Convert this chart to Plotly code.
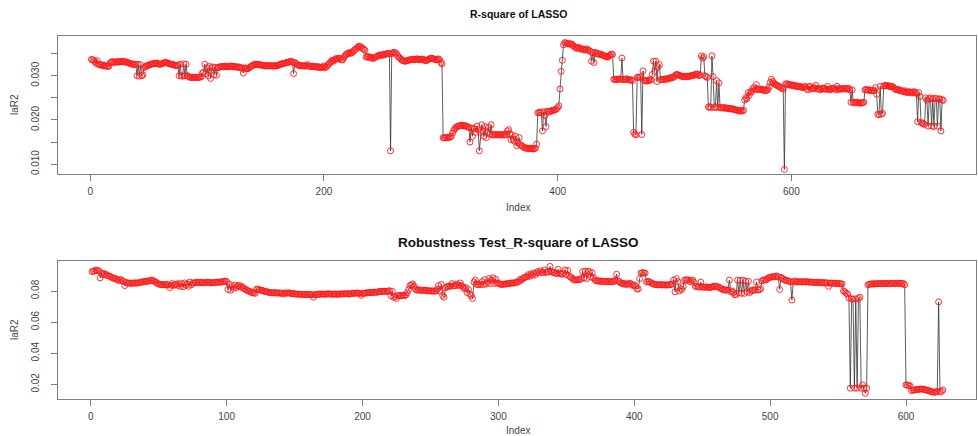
import plotly.graph_objects as go

# ---- data (index starts at 1) ----
lasso_r2 = [
 .0337,.0336,.0335,.0332,.0328,.0334,.0326,.0325,.0324,.0325,.0323,.0322,.0323,.0322,.0321,.0322,
 .0329,.0331,.0332,.0331,.0330,.0331,.0332,.0331,.0331,.0332,.0333,.0332,.0331,.0332,.0331,.0330,.0329,.0328,
 .0327,.0326,.0326,.0325,.0326,.0300,.0326,.0299,.0325,.0300,.0302,
 .0318,.0320,.0322,.0323,.0324,.0325,.0326,.0327,.0327,.0328,.0328,.0329,.0327,.0326,.0326,
 .0327,.0328,.0329,.0330,.0330,.0329,.0328,.0327,.0326,.0326,.0325,.0324,.0323,.0323,.0324,
 .0300,.0326,.0300,.0299,.0327,.0300,.0326,.0300,.0299,.0297,.0296,.0296,.0297,.0296,.0296,.0297,.0296,.0296,.0297,.0298,
 .0306,.0308,.0326,.0305,.0318,.0300,.0321,.0294,.0318,.0320,.0302,.0319,.0301,
 .0318,.0319,.0320,.0321,.0321,.0320,.0321,.0322,.0321,.0320,.0321,.0322,.0322,.0321,.0320,.0321,.0320,.0319,.0320,.0319,.0318,.0317,.0306,
 .0318,.0317,.0316,.0316,.0318,.0320,.0322,.0323,.0325,.0326,.0326,.0325,.0326,.0325,.0324,.0324,.0323,.0323,.0322,
 .0323,.0322,.0323,.0322,.0323,.0322,.0322,.0323,.0322,.0323,.0324,.0325,.0326,.0327,.0328,.0328,.0329,.0330,.0330,.0331,.0332,.0333,.0331,.0305,.0330,.0328,
 .0325,.0324,.0323,.0323,.0322,.0323,.0322,.0322,.0323,.0325,.0322,.0321,.0321,.0322,.0321,.0320,.0320,.0321,.0319,.0320,.0318,.0319,.0320,.0322,
 .0318,.0320,.0323,.0326,.0329,.0332,.0335,.0333,.0336,.0338,.0339,.0338,.0340,.0339,.0336,.0336,.0341,.0345,.0348,.0350,.0352,.0350,.0353,.0352,.0355,
 .0358,.0360,.0362,.0365,.0367,.0366,.0364,.0362,.0360,.0358,.0343,.0342,.0344,.0341,.0342,.0340,.0339,.0341,.0342,.0343,.0345,.0346,.0347,.0346,.0348,
 .0347,.0348,.0349,.0350,.0351,.0349,.0130,.0350,.0352,.0353,.0352,.0350,.0346,.0342,.0340,
 .0337,.0335,.0334,.0333,.0333,.0334,.0335,.0336,.0336,.0337,.0337,.0336,.0337,.0338,.0338,
 .0337,.0336,.0337,.0338,.0337,.0335,.0334,.0335,.0336,.0338,.0339,.0340,.0339,.0338,.0337,.0336,.0337,.0338,.0336,.0330,.0327,
 .0160,.0159,.0160,.0160,.0161,.0160,.0161,.0163,.0170,.0176,.0180,.0183,.0185,.0186,.0187,.0187,.0188,.0187,.0186,.0187,.0186,
 .0184,.0183,.0150,.0182,.0163,.0181,.0180,.0172,.0186,.0178,.0130,.0172,.0189,.0175,.0163,.0185,.0160,.0172,.0183,.0168,.0189,.0166,.0167,
 .0166,.0167,.0166,.0167,.0166,.0166,.0167,.0166,.0166,.0167,.0166,.0175,.0178,.0168,.0155,.0166,.0156,.0152,.0163,.0142,.0148,.0160,.0144,.0142,.0140,.0138,.0137,
 .0136,.0136,.0135,.0135,.0136,.0135,.0134,.0135,.0136,.0145,
 .0216,.0217,.0216,.0218,.0175,.0218,.0210,.0185,.0220,.0219,.0218,.0220,.0221,.0222,.0222,.0223,.0225,.0228,.0232,.0270,.0310,.0335,.0370,
 .0375,.0374,.0373,.0372,.0373,.0371,.0372,.0369,.0366,.0365,.0362,.0363,.0364,.0362,.0360,.0361,.0360,.0358,.0359,.0361,.0358,.0357,.0355,
 .0333,.0352,.0330,.0353,.0350,.0351,.0349,.0348,.0349,.0347,.0346,.0345,.0344,.0343,.0342,.0345,.0347,.0349,.0348,
 .0292,.0292,.0291,.0292,.0292,.0293,.0292,.0340,.0292,.0291,.0292,.0293,.0292,.0291,.0290,.0291,.0289,
 .0172,.0168,.0166,.0296,.0297,.0296,.0298,.0167,.0311,.0290,.0288,.0289,.0288,.0290,.0291,.0290,
 .0303,.0333,.0310,.0333,.0287,.0320,.0325,.0291,.0292,.0292,.0291,.0293,.0292,.0294,.0293,
 .0295,.0296,.0295,.0297,.0298,.0302,.0303,.0302,.0301,.0300,.0299,.0298,.0298,.0299,.0298,.0299,.0298,.0299,.0300,.0301,.0300,.0302,.0303,.0304,.0303,.0300,.0302,
 .0345,.0340,.0343,.0300,.0298,.0296,.0229,.0230,.0228,.0345,.0298,.0228,.0230,.0289,.0228,.0284,.0228,.0227,.0228,.0227,.0228,.0226,.0227,.0226,.0225,
 .0225,.0226,.0224,.0224,.0223,.0222,.0222,.0221,.0220,.0221,.0220,.0222,.0245,
 .0250,.0248,.0262,.0256,.0262,.0265,.0270,.0273,.0268,.0280,.0270,.0269,.0268,.0270,.0269,
 .0267,.0268,.0266,.0267,.0269,.0275,.0285,.0292,.0287,.0284,.0281,.0279,.0278,.0276,.0275,.0273,.0272,.0270,.0088,
 .0281,.0282,.0281,.0279,.0280,.0278,.0279,.0277,.0278,.0276,.0277,.0275,.0276,.0275,.0274,.0273,
 .0275,.0276,.0271,.0268,.0275,.0276,.0270,.0271,.0272,.0273,.0278,.0270,.0271,.0270,.0268,.0271,.0272,.0270,.0271,.0269,
 .0276,.0270,.0268,.0270,.0271,.0272,.0270,.0268,.0276,.0271,.0269,.0270,.0271,.0270,.0271,.0270,.0271,.0270,.0272,.0268,
 .0240,.0268,.0239,.0240,.0239,.0240,.0239,.0238,.0239,.0238,.0239,.0240,.0268,.0269,.0268,.0267,.0268,.0267,.0266,.0267,.0266,.0273,.0258,.0213,.0212,
 .0276,.0213,.0215,.0277,.0278,.0277,.0278,.0277,.0276,.0275,.0276,.0275,.0272,.0270,.0268,.0269,.0268,.0266,.0267,.0265,.0264,.0266,.0263,.0262,.0263,.0264,.0262,.0261,.0263,.0264,.0262,.0260,
 .0196,.0262,.0253,.0194,.0193,.0191,.0190,.0250,.0245,.0186,.0248,.0250,.0186,.0248,.0185,.0249,.0248,.0186,.0247,.0248,.0175,.0246,.0244,
]

robust_r2 = [
 .0925,.0928,.0930,.0935,.0932,.0930,
 .0885,.0915,.0905,.0912,.0908,.0900,.0898,.0895,
 .0890,.0885,.0880,.0882,.0876,.0870,.0868,.0875,.0866,.0862,
 .0835,.0855,.0852,.0850,.0851,.0849,.0852,.0850,.0853,.0851,.0852,.0855,.0857,
 .0858,.0860,.0862,.0864,.0862,.0865,.0868,.0870,.0866,.0862,.0856,.0850,.0845,
 .0843,.0842,.0840,.0841,.0840,.0842,.0839,.0822,.0838,.0848,
 .0836,.0840,.0845,.0836,.0848,.0830,.0846,.0828,.0852,.0838,.0845,.0830,.0858,.0840,.0850,
 .0852,.0855,.0856,.0855,.0854,.0856,.0855,.0853,.0854,.0855,.0856,.0855,.0854,.0853,.0854,.0855,.0856,.0857,.0856,.0857,.0858,.0860,.0862,.0864,.0860,
 .0810,.0845,.0805,.0830,.0818,.0838,.0822,.0832,.0836,.0825,.0830,.0822,
 .0815,.0810,.0805,.0800,.0798,.0792,.0790,.0788,.0785,.0812,
 .0810,.0808,.0806,.0805,.0800,.0798,.0796,.0794,.0792,.0790,.0789,.0788,.0789,
 .0790,.0786,.0788,.0787,.0786,.0785,.0780,.0788,.0786,.0787,.0788,.0785,.0784,.0783,.0782,.0781,.0780,.0779,.0780,.0778,
 .0779,.0778,.0777,.0778,.0777,.0778,.0776,.0777,.0760,.0776,.0778,.0779,.0780,.0779,.0781,.0780,.0779,.0780,.0781,.0782,
 .0781,.0780,.0779,.0780,.0781,.0780,.0779,.0780,.0781,.0782,.0781,.0782,.0783,.0782,.0781,.0782,.0784,.0786,.0785,.0786,
 .0787,.0786,.0785,.0772,.0784,.0786,.0787,.0788,.0789,.0790,.0791,.0790,.0791,.0792,.0793,.0792,.0795,
 .0798,.0797,.0798,.0799,.0797,.0798,.0800,.0802,
 .0770,.0798,.0760,.0765,.0752,.0770,.0772,.0770,.0771,.0772,.0770,.0775,.0790,.0810,
 .0835,.0840,.0845,.0830,.0812,.0805,.0808,
 .0806,.0805,.0804,.0806,.0805,.0803,.0802,.0801,.0800,.0801,.0800,.0799,.0800,
 .0812,.0835,.0800,.0842,.0772,.0760,.0820,.0828,
 .0830,.0832,.0831,.0848,.0833,.0835,.0845,.0836,.0838,.0852,.0835,
 .0825,.0815,.0822,.0790,.0810,.0780,.0770,.0752,.0858,.0870,
 .0842,.0843,.0841,.0843,.0860,.0842,.0873,.0845,.0855,.0880,.0848,.0870,.0885,.0848,.0875,.0852,.0850,
 .0845,.0843,.0842,.0844,.0845,.0847,.0846,.0848,.0850,.0852,.0851,.0853,.0855,.0858,.0862,.0875,
 .0868,.0880,.0885,.0890,.0892,.0905,.0895,.0910,.0900,.0915,.0905,.0918,.0925,.0915,.0930,.0920,.0918,.0935,.0920,.0922,.0925,.0958,.0925,.0920,
 .0918,.0915,.0912,.0940,.0915,.0910,.0908,.0915,.0935,.0905,.0932,.0898,.0890,.0885,.0875,.0872,.0870,.0872,.0875,.0873,
 .0880,.0925,.0885,.0928,.0880,.0927,.0925,.0890,.0918,.0885,.0872,.0865,.0868,.0862,.0864,
 .0862,.0863,.0861,.0862,.0860,.0861,.0862,.0860,.0859,.0862,.0870,.0908,.0865,.0860,.0852,
 .0850,.0845,.0848,.0842,.0846,.0845,.0850,.0842,.0835,.0838,.0832,.0812,.0815,.0880,.0915,.0918,.0917,.0915,
 .0858,.0862,.0860,.0855,.0850,.0845,.0843,.0842,.0840,.0840,.0841,.0840,.0839,.0840,.0839,.0838,.0840,.0841,.0842,.0845,
 .0870,.0795,.0880,.0860,.0800,.0815,.0810,.0830,.0870,.0872,.0870,.0871,.0860,.0868,.0870,.0855,
 .0830,.0828,.0827,.0825,.0857,.0826,.0825,.0824,.0826,.0825,.0823,.0822,.0825,.0830,.0831,.0829,.0828,.0826,.0820,.0815,.0810,.0808,.0806,.0805,.0808,
 .0870,.0795,.0800,.0790,.0775,.0778,.0870,.0788,.0868,.0785,.0870,.0785,.0862,.0795,.0863,.0790,.0800,.0805,.0808,.0805,.0858,.0806,.0808,.0815,
 .0865,.0870,.0872,.0870,.0880,.0885,.0888,.0890,.0892,.0891,.0894,.0897,.0890,.0810,.0888,.0882,
 .0875,.0870,.0868,.0866,.0862,.0860,.0742,.0858,.0865,.0860,.0858,
 .0860,.0859,.0860,.0858,.0860,.0859,.0860,.0858,.0857,.0858,.0857,.0856,.0855,.0856,.0855,.0854,.0855,.0853,.0854,.0852,.0853,.0852,.0830,.0850,.0851,
 .0850,.0849,.0850,.0848,.0849,.0848,.0846,.0845,.0800,.0795,.0785,.0780,
 .0755,.0175,.0750,.0748,.0175,.0750,.0175,.0752,.0760,.0175,.0196,.0175,.0142,.0175,.0840,
 .0843,.0845,.0846,.0845,.0847,.0846,.0847,.0848,.0847,.0848,.0847,.0848,.0849,.0848,.0847,.0848,.0849,.0850,.0849,.0848,.0849,.0850,.0849,.0848,.0849,.0848,.0840,
 .0196,.0195,.0192,.0190,.0160,.0162,.0163,.0165,.0166,.0167,.0168,.0170,.0169,.0168,.0165,.0163,.0160,.0158,.0155,.0152,.0150,.0148,.0152,.0155,.0730,.0150,.0155,.0163,
]

top_title = "R-square of LASSO"
bottom_title = "Robustness Test_R-square of LASSO"
x_label = "Index"
y_label = "laR2"
top_xticks = [0, 200, 400, 600]
top_yticks = [0.010, 0.015, 0.020, 0.025, 0.030, 0.035]
top_yticktext = ["0.010", "", "0.020", "", "0.030", ""]
bottom_xticks = [0, 100, 200, 300, 400, 500, 600]
bottom_yticks = [0.02, 0.04, 0.06, 0.08]
bottom_yticktext = ["0.02", "0.04", "0.06", "0.08"]

W, H = 978, 436
FONT = "Liberation Sans, Arial, sans-serif"
FRAME = "#7f7f7f"
TICKFONT = dict(family=FONT, size=10, color="#444444")

def px_x(p):
    return p / W

def px_y(p):
    return 1 - p / H

fig = go.Figure()

series = [(lasso_r2, "x", "y"), (robust_r2, "x2", "y2")]
for vals, xa, ya in series:
    idx = list(range(1, len(vals) + 1))
    fig.add_trace(go.Scatter(x=idx, y=vals, mode="lines", xaxis=xa, yaxis=ya,
                             line=dict(color="#333333", width=0.8), hoverinfo="skip",
                             showlegend=False))
    fig.add_trace(go.Scatter(x=idx, y=vals, mode="markers", xaxis=xa, yaxis=ya,
                             marker=dict(symbol="circle-open", size=6, color="#ff1a1a",
                                         line=dict(width=0.9, color="#ff1a1a")),
                             showlegend=False))

axis_common = dict(showline=True, mirror=True, linecolor=FRAME, linewidth=1.3,
                   ticks="outside", ticklen=6, tickcolor=FRAME, tickwidth=1,
                   showgrid=False, zeroline=False, tickfont=TICKFONT)

x_dom = [px_x(58), px_x(976)]

fig.update_layout(
    width=W, height=H, autosize=False,
    margin=dict(l=0, r=0, t=0, b=0),
    paper_bgcolor="white", plot_bgcolor="white",
    xaxis=dict(domain=x_dom, anchor="y", range=[-27.6, 758.0],
               tickmode="array", tickvals=top_xticks, ticklabelstandoff=2, **axis_common),
    yaxis=dict(domain=[px_y(174), px_y(36)], anchor="x", range=[0.00776, 0.0390],
               tickmode="array", tickvals=top_yticks, ticktext=top_yticktext,
               tickangle=-90, ticklabelstandoff=8, **axis_common),
    xaxis2=dict(domain=x_dom, anchor="y2", range=[-24.1, 651.5],
                tickmode="array", tickvals=bottom_xticks, ticklabelstandoff=2, **axis_common),
    yaxis2=dict(domain=[px_y(398.7), px_y(260.7)], anchor="x2", range=[0.01074, 0.0995],
                tickmode="array", tickvals=bottom_yticks, ticktext=bottom_yticktext,
                tickangle=-90, ticklabelstandoff=8, **axis_common),
)

ann = []
ann.append(dict(text="<b>%s</b>" % top_title, x=px_x(518), y=px_y(14), xref="paper", yref="paper",
                showarrow=False, xanchor="center", yanchor="middle",
                font=dict(family=FONT, size=10.5, color="#111111")))
ann.append(dict(text="<b>%s</b>" % bottom_title, x=px_x(518), y=px_y(242), xref="paper", yref="paper",
                showarrow=False, xanchor="center", yanchor="middle",
                font=dict(family=FONT, size=13.5, color="#111111")))
for yy in (207, 430):
    ann.append(dict(text=x_label, x=px_x(518), y=px_y(yy), xref="paper", yref="paper",
                    showarrow=False, xanchor="center", yanchor="middle",
                    font=dict(family=FONT, size=10, color="#444444")))
for yy in (105, 330):
    ann.append(dict(text=y_label, x=px_x(14), y=px_y(yy), xref="paper", yref="paper",
                    showarrow=False, xanchor="center", yanchor="middle", textangle=-90,
                    font=dict(family=FONT, size=10, color="#444444")))
fig.update_layout(annotations=ann)

fig.write_html("out.html", config={"displayModeBar": False},
               post_script="document.body.style.margin='0px';document.body.style.overflow='hidden';")
